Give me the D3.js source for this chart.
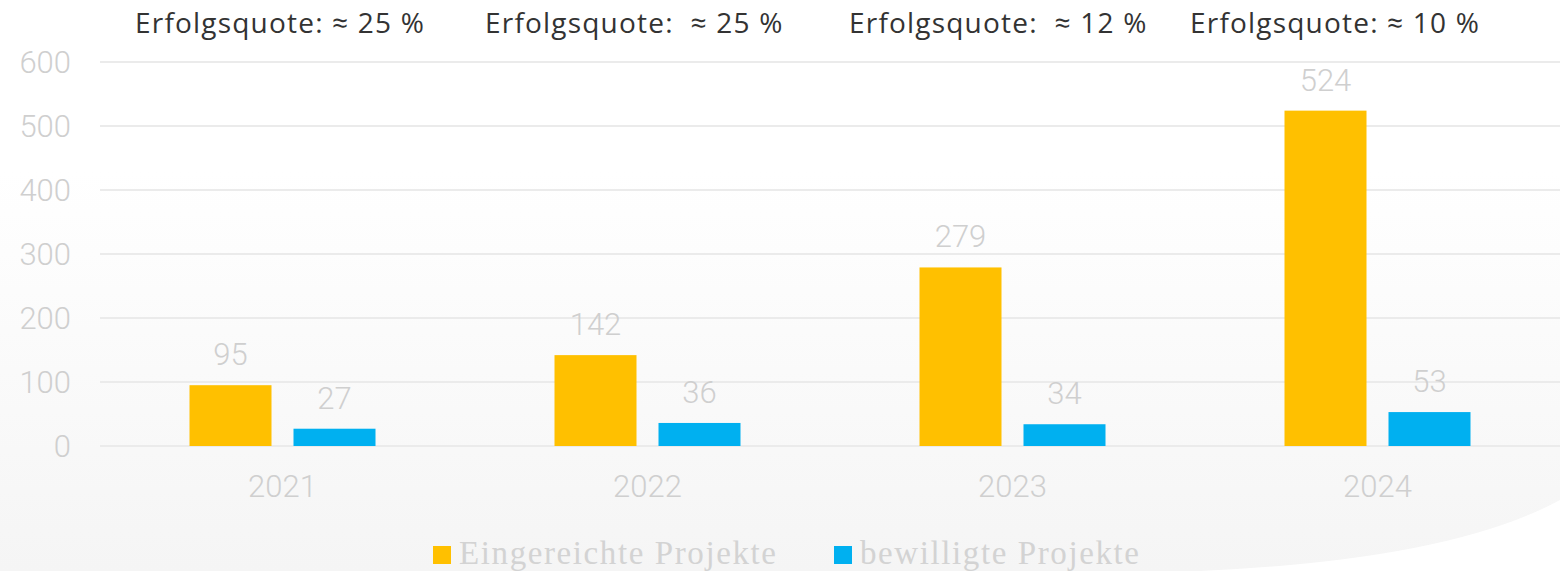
<!DOCTYPE html>
<html><head><meta charset="utf-8">
<script src="https://cdn.jsdelivr.net/npm/d3@7"></script>
<style>html,body{margin:0;padding:0;background:#fff;}svg{display:block;}</style>
</head><body>
<svg id="c" width="1560" height="571"></svg>
<script>
const years = ["2021", "2022", "2023", "2024"];
const eingereicht = [95, 142, 279, 524];
const bewilligt = [27, 36, 34, 53];
const quoten = ["Erfolgsquote: ≈ 25 %", "Erfolgsquote:  ≈ 25 %", "Erfolgsquote:  ≈ 12 %", "Erfolgsquote: ≈ 10 %"];
const quoteX = [135, 485, 849, 1190];
const yTicks = [0, 100, 200, 300, 400, 500, 600];
const seriesNames = ["Eingereichte Projekte", "bewilligte Projekte"];
const colors = ["#FFC000", "#00B0F0"];

const svg = d3.select("#c");
const W = 1560, H = 571;
const defs = svg.append("defs");
const g = defs.append("linearGradient").attr("id","bg").attr("x1",0).attr("y1",0).attr("x2",0).attr("y2",1);
g.append("stop").attr("offset","0").attr("stop-color","#ffffff");
g.append("stop").attr("offset","0.3").attr("stop-color","#ffffff");
g.append("stop").attr("offset","1").attr("stop-color","#f5f5f5");
svg.append("rect").attr("width",W).attr("height",H).attr("fill","url(#bg)");
svg.append("path").attr("d","M1200 571 Q1450 560 1560 500 L1560 571 Z").attr("fill","#ffffff");

const x = d3.scaleBand().domain(years).range([100, 1560]);
const y = d3.scaleLinear().domain([0, 600]).range([446, 62]);

// gridlines
svg.append("g").selectAll("line").data(yTicks).join("line")
  .attr("x1",100).attr("x2",1560).attr("y1",d=>y(d)).attr("y2",d=>y(d))
  .attr("stroke","#ebebeb").attr("stroke-width",2);

const lightFont = "Roboto, 'Open Sans', sans-serif";
svg.append("g").selectAll("text").data(yTicks).join("text")
  .attr("x",71).attr("y",d=>y(d)+11).attr("text-anchor","end")
  .attr("font-family",lightFont).attr("font-weight",300).attr("font-size",31)
  .attr("fill","#cfcfcf").text(d=>d);

const barW = 82, gap = 22;
const series = [eingereicht, bewilligt];
series.forEach((vals, si) => {
  const off = si === 0 ? -(gap/2 + barW) : gap/2;
  const grp = svg.append("g");
  grp.selectAll("rect").data(vals).join("rect")
    .attr("x",(d,i)=>x(years[i]) + x.bandwidth()/2 + off)
    .attr("width",barW)
    .attr("y",d=>y(d)).attr("height",d=>y(0)-y(d))
    .attr("fill",colors[si]);
  grp.selectAll("text").data(vals).join("text")
    .attr("x",(d,i)=>x(years[i]) + x.bandwidth()/2 + off + barW/2)
    .attr("y",d=>y(d)-20).attr("text-anchor","middle")
    .attr("font-family",lightFont).attr("font-weight",300).attr("font-size",31)
    .attr("fill","#cfcfcf").text(d=>d);
});

svg.append("g").selectAll("text").data(years).join("text")
  .attr("x",d=>x(d)+x.bandwidth()/2).attr("y",497).attr("text-anchor","middle")
  .attr("font-family",lightFont).attr("font-weight",300).attr("font-size",31)
  .attr("fill","#cfcfcf").text(d=>d);

svg.append("g").selectAll("text").data(quoten).join("text")
  .attr("x",(d,i)=>quoteX[i]).attr("y",33)
  .attr("xml:space","preserve").style("white-space","pre")
  .attr("font-family","'Open Sans', sans-serif").attr("font-size",28)
  .attr("letter-spacing",1.2)
  .attr("fill","#333333").text(d=>d);

// legend
const legX = [433, 834];
const leg = svg.append("g");
seriesNames.forEach((n,i)=>{
  leg.append("rect").attr("x",legX[i]).attr("y",546).attr("width",18).attr("height",18).attr("fill",colors[i]);
  leg.append("text").attr("x",legX[i]+26).attr("y",564)
    .attr("font-family","'Liberation Serif', serif").attr("font-size",33)
    .attr("letter-spacing",1.6)
    .attr("fill","#d3d3d3").text(n);
});
</script>
</body></html>
